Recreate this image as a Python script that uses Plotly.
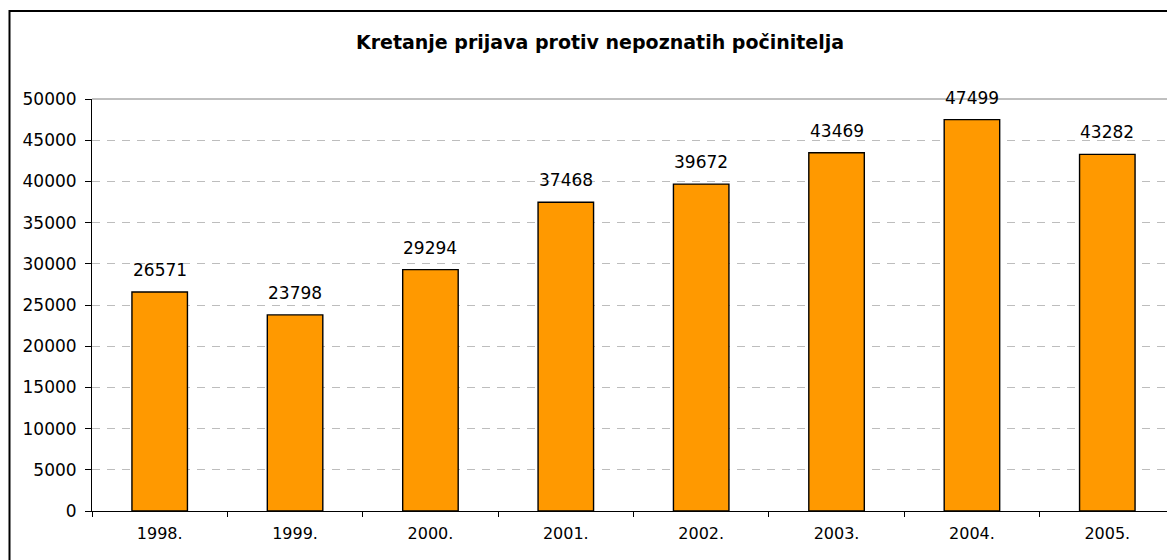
import plotly.graph_objects as go

# data
years = ["1998.", "1999.", "2000.", "2001.", "2002.", "2003.", "2004.", "2005."]
prijave = [26571, 23798, 29294, 37468, 39672, 43469, 47499, 43282]
y_ticks = list(range(0, 50001, 5000))
title = "Kretanje prijava protiv nepoznatih počinitelja"

# page has an 8px body margin, so the figure is 8px smaller than the window
W, H = 1167, 552
ml, mr, mt, mb = 84, 0, 91, 49
pw, ph = W - ml - mr, H - mt - mb

FONT = "DejaVu Sans"

fig = go.Figure(go.Bar(
    x=years, y=prijave,
    width=0.41,
    marker=dict(color="#FF9900", line=dict(color="black", width=1.4)),
    hoverinfo="x+y",
))

# value labels above the bars (category index, because "1998." looks numeric)
for i, v in enumerate(prijave):
    fig.add_annotation(x=i, y=v, text=str(v), showarrow=False,
                       yanchor="bottom", yshift=10,
                       font=dict(family=FONT, size=17, color="black"))

fig.update_layout(
    width=W, height=H,
    margin=dict(l=ml, r=mr, t=mt, b=mb),
    paper_bgcolor="white", plot_bgcolor="white",
    showlegend=False,
    font=dict(family=FONT, size=17, color="black"),
    title=dict(text="<b>" + title + "</b>", x=592 / W, xanchor="center",
               y=1 - 34 / H, yanchor="middle",
               font=dict(family=FONT, size=19, color="black")),
)

fig.update_xaxes(
    type="category",
    range=[-0.5, len(years) - 0.5],
    automargin=False,
    tickangle=0,
    showline=True, linecolor="black", linewidth=1,
    ticks="outside", tickson="boundaries", ticklen=5, tickcolor="black",
    ticklabelstandoff=8,
    showgrid=False,
    tickfont=dict(family=FONT, size=16),
)
fig.update_yaxes(
    range=[0, 50000],
    automargin=False,
    tickvals=y_ticks, tickformat="d",
    showline=True, linecolor="black", linewidth=1,
    ticks="outside", ticklen=6, tickcolor="black",
    ticklabelstandoff=5,
    showgrid=True, gridcolor="#bdbdbd", griddash="8px,7px", gridwidth=1,
    zeroline=False,
    tickfont=dict(family=FONT, size=17),
)

# top border of plot area (solid grey) and outer chart frame
fig.add_shape(type="line", xref="paper", yref="paper", x0=0, x1=1, y0=1, y1=1,
              line=dict(color="#808080", width=1))
fig.add_shape(type="rect", xref="paper", yref="paper",
              x0=(1.5 - ml) / pw, x1=(W + 20 - ml) / pw,
              y0=-(mb + 20) / ph, y1=1 + (mt - 3) / ph,
              line=dict(color="black", width=2), layer="below")

fig.write_html("out.html")
